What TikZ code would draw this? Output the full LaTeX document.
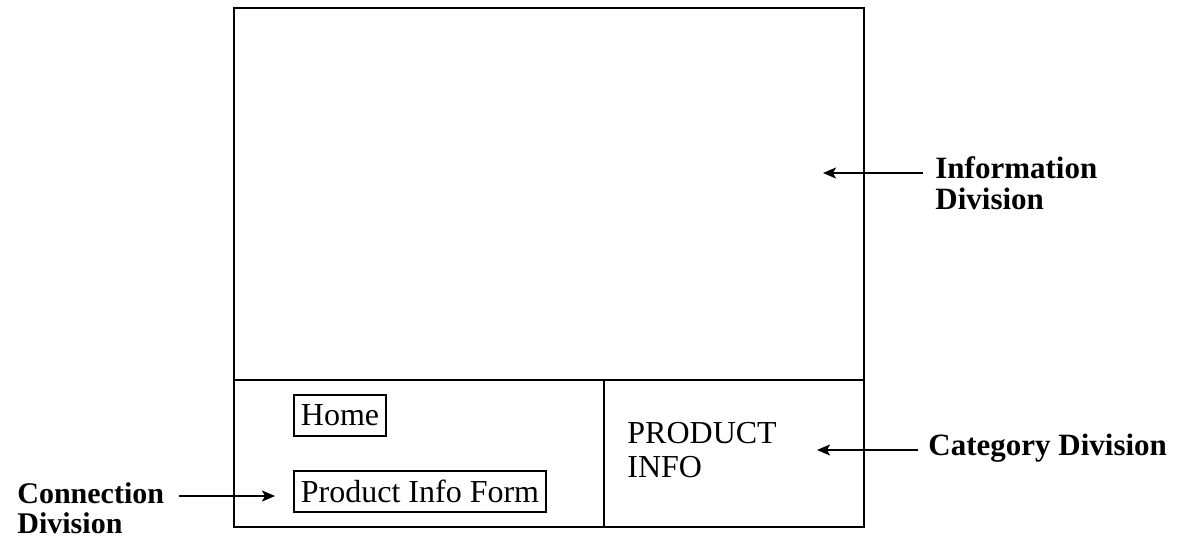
\documentclass[tikz,border=0pt]{standalone}
\usepackage{fontspec}
\setmainfont{Liberation Serif}
\usetikzlibrary{arrows.meta}

\begin{document}
\begin{tikzpicture}
[x=0.5pt, y=-0.5pt,
  frame/.style={line width=1.2pt},
  linkbox/.style={draw, line width=0.9pt, anchor=west, inner xsep=3.5pt,
    minimum height=20.5pt, font=\fontsize{16}{18}\selectfont},
  label/.style={anchor=base west, align=left, inner sep=0pt, font=\bfseries\fontsize{15.5}{15.5}\selectfont},
  pointer/.style={line width=0.8pt, -{Stealth[length=6.5pt,width=5.5pt,inset=1.5pt]}}]
  \useasboundingbox (0,0) rectangle (1183,542);
  % page layout
  \coordinate (nw) at (234,8);
  \coordinate (se) at (864,527);
  \coordinate (split) at (604,380);
  \draw[frame] (nw) rectangle (se);
  \draw[frame] (nw |- split) -- (se |- split);
  \draw[frame] (split) -- (split |- se);
  % contents
  \node[linkbox] (home) at (293,415.5) {Home};
  \node[linkbox] (pform) at (293,491.5) {Product Info Form};
  \node[anchor=base west, align=left, inner sep=0pt, font=\fontsize{16}{17}\selectfont]
    (category) at (627,477) {PRODUCT\\INFO};
  % labels
  \node[label] (infolbl) at (935,209) {Information\\Division};
  \node[label] (catlbl) at (928,455) {Category Division};
  \node[label, font=\bfseries\fontsize{15}{15}\selectfont] (connlbl) at (17,533) {Connection\\Division};
  \coordinate (infotip) at (823,173);
  \coordinate (cattip) at (817,450);
  \draw[pointer] ([xshift=-6pt]infolbl.west |- infotip) -- (infotip);
  \draw[pointer] ([xshift=-5pt]catlbl.west |- cattip) -- (cattip);
  \draw[pointer] ([xshift=7.5pt]connlbl.east |- 0,496) -- ([xshift=-9pt]pform.west |- 0,496);
\end{tikzpicture}
\end{document}
